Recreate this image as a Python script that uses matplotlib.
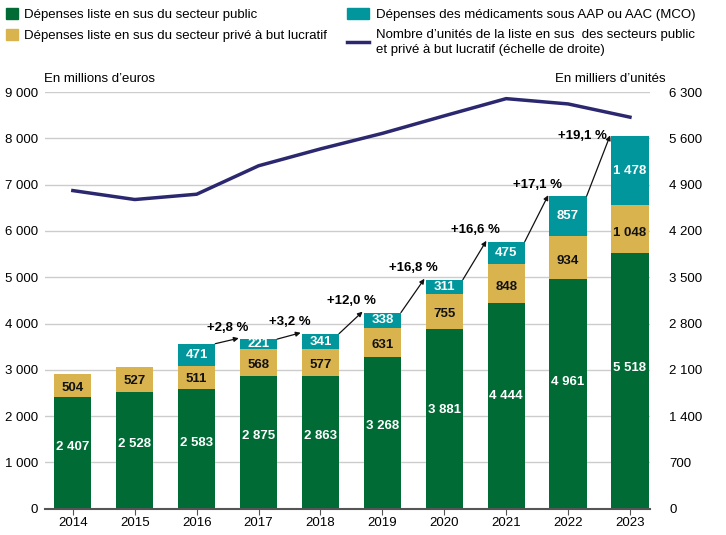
import matplotlib
matplotlib.use("Agg")
import matplotlib.pyplot as plt
from matplotlib.patches import Patch
from matplotlib.lines import Line2D
from matplotlib.ticker import FuncFormatter

plt.rcParams['font.family'] = ['Liberation Sans', 'DejaVu Sans']

years = ['2014', '2015', '2016', '2017', '2018', '2019', '2020', '2021', '2022', '2023']
public = [2407, 2528, 2583, 2875, 2863, 3268, 3881, 4444, 4961, 5518]
prive = [504, 527, 511, 568, 577, 631, 755, 848, 934, 1048]
mco = [0, 0, 471, 221, 341, 338, 311, 475, 857, 1478]
unites = [4810, 4675, 4755, 5185, 5440, 5675, 5940, 6200, 6120, 5920]
growth = ['', '', '', '+2,8 %', '+3,2 %', '+12,0 %', '+16,8 %', '+16,6 %', '+17,1 %', '+19,1 %']

green = '#006b35'
gold = '#d9b44e'
teal = '#00969b'
navy = '#2b2870'

fig = plt.figure(figsize=(7.26, 5.35), dpi=100)
ax = fig.add_axes([0.062, 0.049, 0.833, 0.779])
ax2 = ax.twinx()

x = list(range(len(years)))
w = 0.6
bot2 = [a + b for a, b in zip(public, prive)]
tops = [a + b for a, b in zip(bot2, mco)]

ax.bar(x, public, w, color=green, zorder=3)
ax.bar(x, prive, w, bottom=public, color=gold, zorder=3)
ax.bar(x, mco, w, bottom=bot2, color=teal, zorder=3)

def fmt(v):
    return f'{v:,}'.replace(',', ' ')

for i in x:
    ax.text(i, public[i] * 0.55, fmt(public[i]), ha='center', va='center',
            color='white', fontsize=9.5, fontweight='bold', zorder=4)
    ax.text(i, public[i] + prive[i] * 0.42, fmt(prive[i]), ha='center', va='center',
            color='#111111', fontsize=9.5, fontweight='bold', zorder=4)
    if mco[i]:
        ax.text(i, bot2[i] + mco[i] * 0.5, fmt(mco[i]), ha='center', va='center',
                color='white', fontsize=9.5, fontweight='bold', zorder=4)

# fleches d'evolution
for i in x:
    if not growth[i]:
        continue
    ax.annotate('', xy=(i - w / 2 - 0.02, tops[i] + 20), xytext=(i - 1 + w / 2, tops[i - 1]),
                arrowprops=dict(arrowstyle='-|>', color='#111111', lw=0.9,
                                mutation_scale=7, shrinkA=0, shrinkB=0), zorder=5)
    if i == len(years) - 1:
        ax.text(i - w / 2 - 0.08, tops[i] + 0, growth[i], ha='right', va='center',
                fontsize=9.5, fontweight='bold', zorder=5)
    else:
        ax.text(i - 0.5, tops[i] + 250, growth[i], ha='center', va='center',
                fontsize=9.5, fontweight='bold', zorder=5)

ax2.plot(x, unites, color=navy, lw=2.5, zorder=6)

ax.set_xlim(-0.45, 9.32)
ax.set_ylim(0, 9000)
ax2.set_ylim(0, 6300)
ax.set_yticks(range(0, 9001, 1000))
ax2.set_yticks(range(0, 6301, 700))
ax.yaxis.set_major_formatter(FuncFormatter(lambda v, p: fmt(int(v))))
ax2.yaxis.set_major_formatter(FuncFormatter(lambda v, p: fmt(int(v))))
ax.set_xticks(x)
ax.set_xticklabels(years)

ax.grid(axis='y', color='#cccccc', lw=1, zorder=0)
for a in (ax, ax2):
    for s in ('top', 'left', 'right', 'bottom'):
        a.spines[s].set_visible(False)
ax.spines['bottom'].set_visible(True)
ax.spines['bottom'].set_color('#555555')
ax.spines['bottom'].set_linewidth(1.5)
ax.spines['bottom'].set_zorder(7)
ax.tick_params(axis='y', length=0, labelsize=9.5, pad=5)
ax2.tick_params(axis='y', length=0, labelsize=9.5, pad=14)
ax.tick_params(axis='x', length=4, color='#555555', labelsize=9.5, pad=2)

fig.text(0.061, 0.842, 'En millions d\u2019euros', fontsize=9.5, ha='left', va='bottom')
fig.text(0.917, 0.842, 'En milliers d\u2019unités', fontsize=9.5, ha='right', va='bottom')

h_left = [
    Patch(color=green, label='Dépenses liste en sus du secteur public'),
    Patch(color=gold, label='Dépenses liste en sus du secteur privé à but lucratif'),
]
h_right = [
    Patch(color=teal, label='Dépenses des médicaments sous AAP ou AAC (MCO)'),
    Line2D([0], [0], color=navy, lw=2.5,
           label='Nombre d\u2019unités de la liste en sus  des secteurs public\net privé à but lucratif (échelle de droite)'),
]
kw = dict(frameon=False, fontsize=9.5, handleheight=0.9,
          handletextpad=0.5, labelspacing=0.6, borderaxespad=0.0, borderpad=0.0)
fig.legend(handles=h_left, loc='upper left', bbox_to_anchor=(0.008, 0.985),
           handlelength=0.9, **kw)
leg2 = fig.legend(handles=h_right, loc='upper left', bbox_to_anchor=(0.478, 0.985),
                  handlelength=1.7, **kw)
for t in leg2.get_texts():
    t.set_linespacing(1.3)

fig.savefig('out.png', dpi=100)
